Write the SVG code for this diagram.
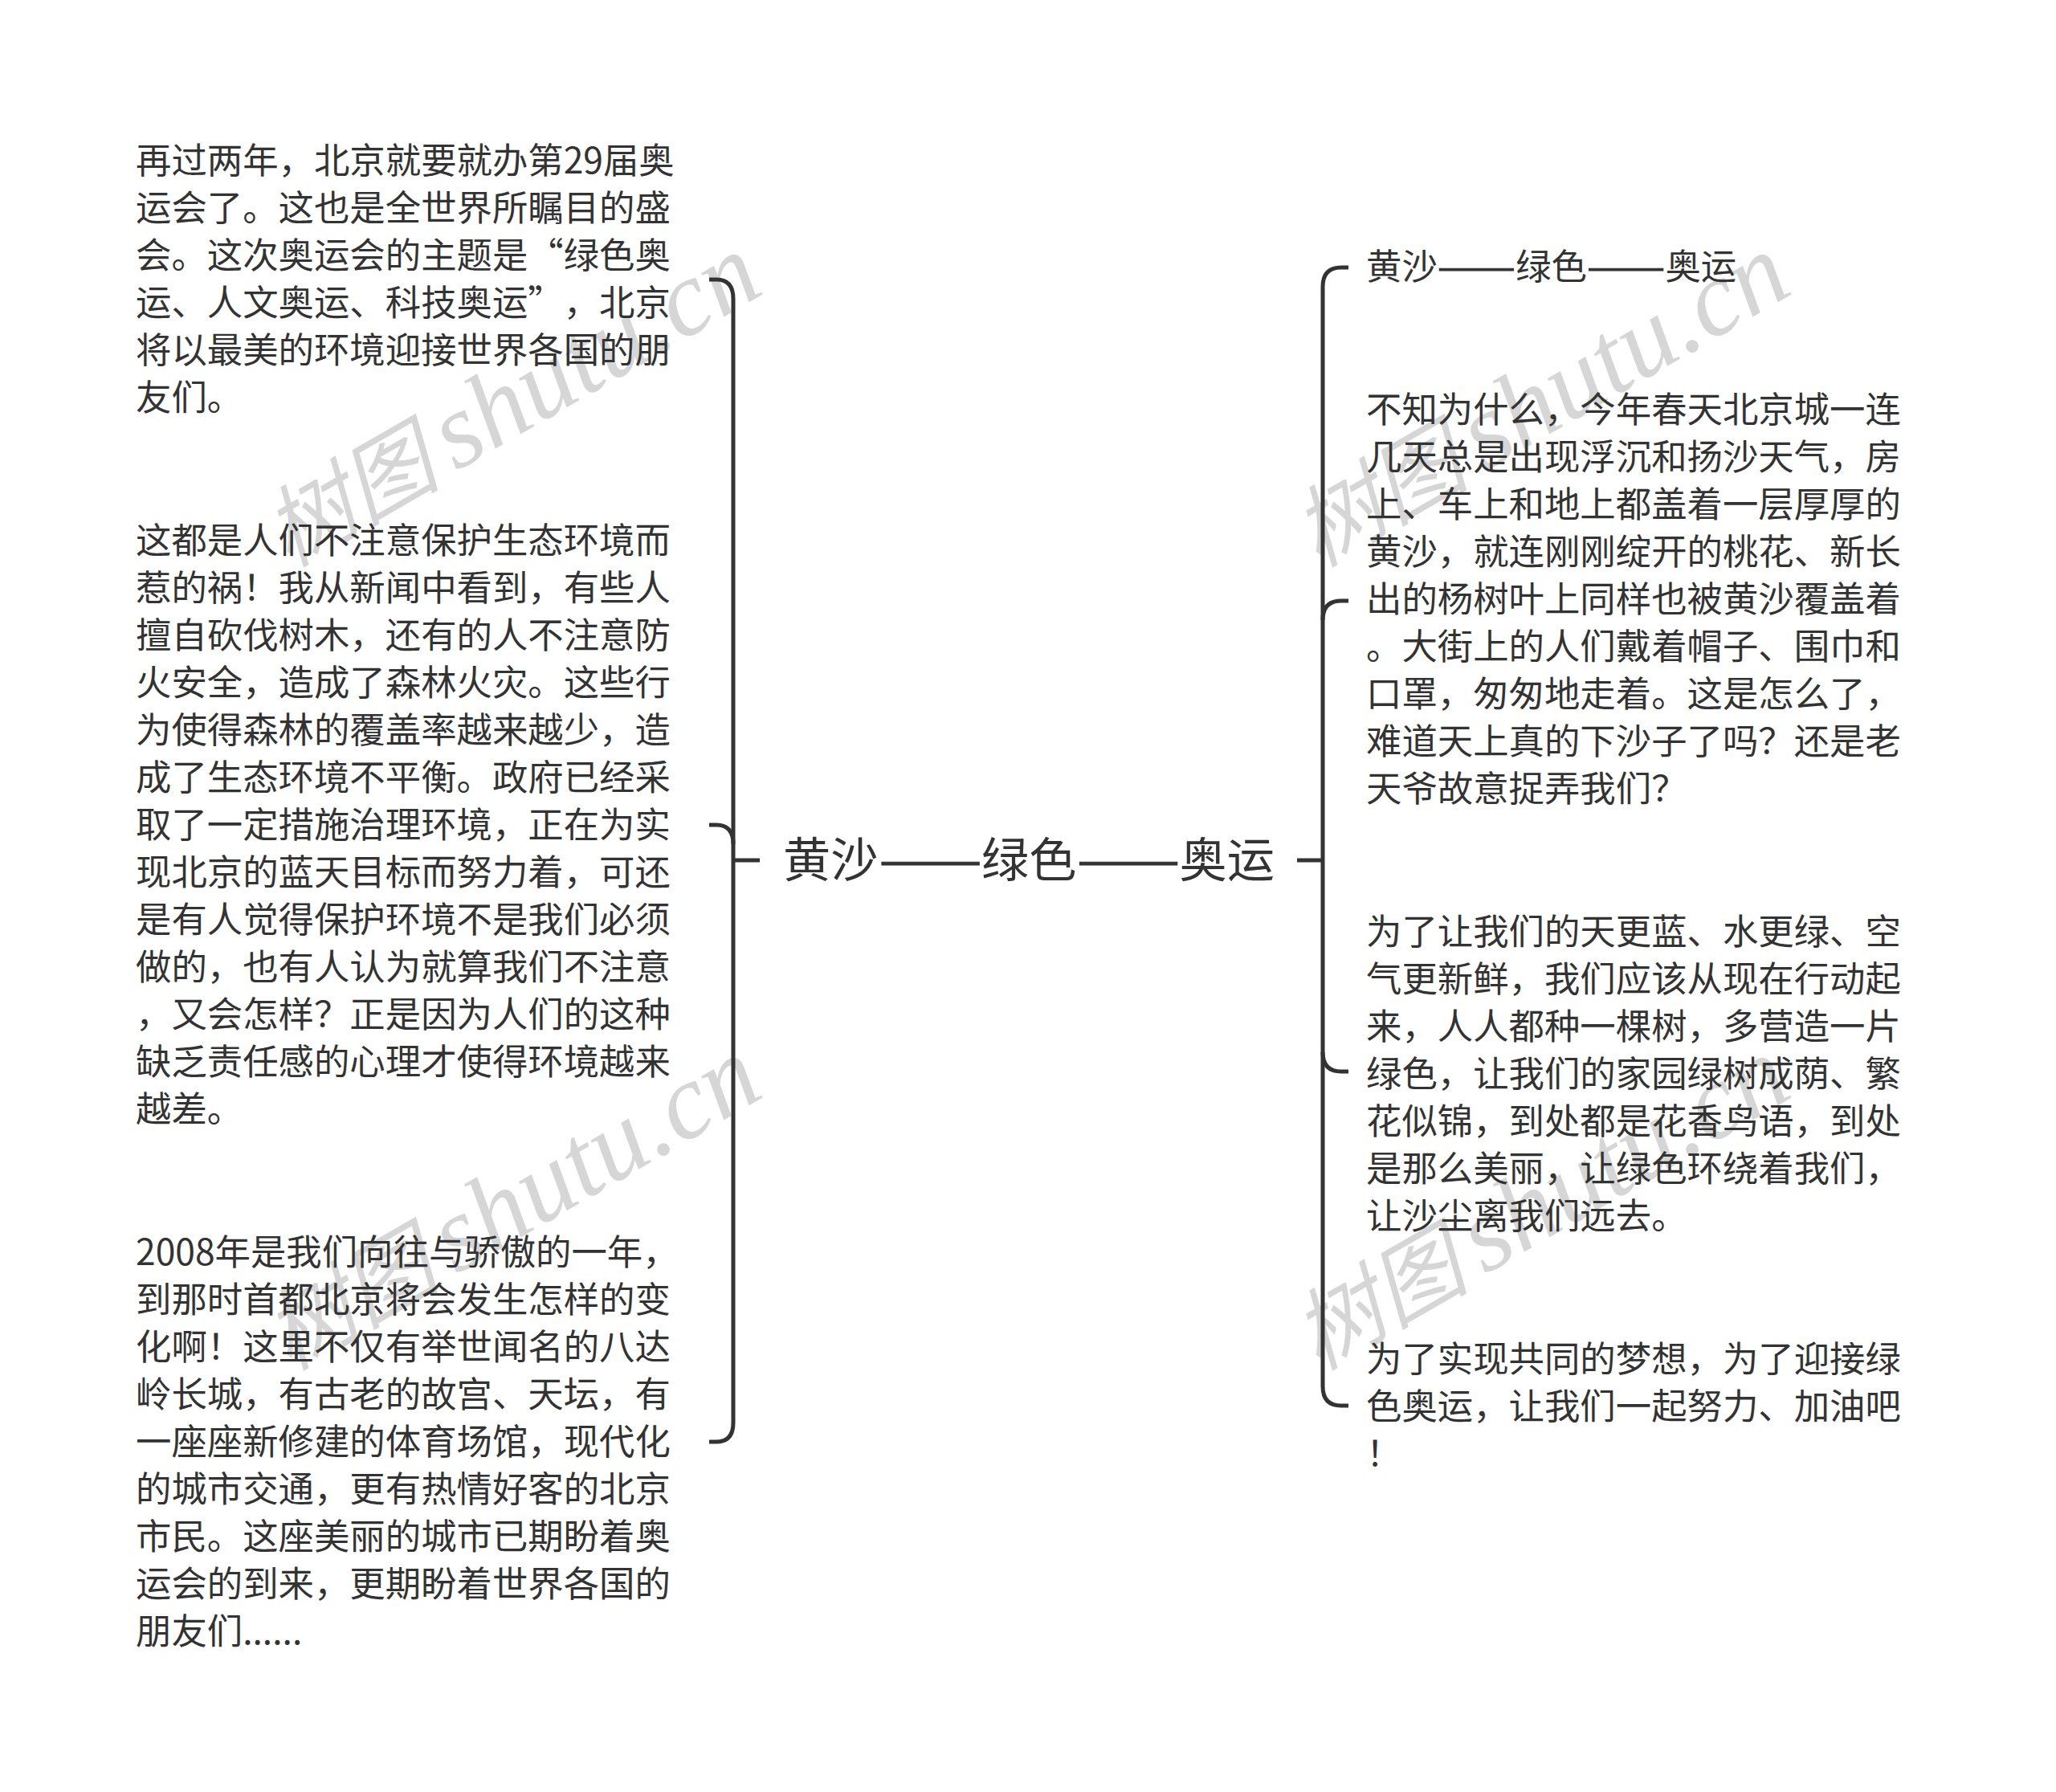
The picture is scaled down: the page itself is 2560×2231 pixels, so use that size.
<svg xmlns="http://www.w3.org/2000/svg" width="2560" height="2231" viewBox="0 0 2560 2231">
<style>
text{font-family:"Noto Sans CJK SC","Liberation Sans",sans-serif;fill:#333;text-spacing-trim:space-all}
.t{font-size:44.4px}
.c{font-size:59.2px}
.d{stroke:#333;stroke-width:1}
.w{font-family:"Liberation Serif","Noto Sans CJK SC",serif;font-style:italic;font-size:133px;fill:#d6d6d6}
.wc{font-size:110px}
.l{fill:none;stroke:#333;stroke-width:5;stroke-linecap:butt}
</style>
<defs>
<g id="wm"><text class="w"><tspan class="wc" x="0" y="0">树图</tspan><tspan x="240" y="0">shutu.cn</tspan></text></g>
</defs>
<rect width="2560" height="2231" fill="#fff"/>
<g id="watermarks">
<use href="#wm" transform="translate(360 707) rotate(-30)"/>
<use href="#wm" transform="translate(360 1707) rotate(-30)"/>
<use href="#wm" transform="translate(1641 707) rotate(-30)"/>
<use href="#wm" transform="translate(1641 1707) rotate(-30)"/>
</g>
<g id="connectors">
<path class="l" d="M883 348H892Q913 348 913 372V1771Q913 1795 892 1795H883"/>
<path class="l" d="M883 1027H892Q913 1027 913 1051"/>
<path class="l" d="M913 1071H946"/>
<path class="l" d="M1679 333H1670Q1647 333 1647 357V1726Q1647 1750 1670 1750H1679"/>
<path class="l" d="M1679 748H1670Q1647 748 1647 772"/>
<path class="l" d="M1647 1310Q1647 1334 1670 1334H1679"/>
<path class="l" d="M1615 1071H1647"/>
</g>
<g id="center">
<text class="c" x="975" y="1092">黄沙</text>
<text class="c d" x="1094.4" y="1092" textLength="128.2" lengthAdjust="spacingAndGlyphs">——</text>
<text class="c" x="1222" y="1092">绿色</text>
<text class="c d" x="1341" y="1092" textLength="128.2" lengthAdjust="spacingAndGlyphs">——</text>
<text class="c" x="1468.5" y="1092">奥运</text>
</g>
<g id="nodes" transform="translate(0 1)">
<g id="left1"><text class="t" x="170">
<tspan x="169" y="215">再过两年，北京就要就办第29届奥</tspan>
<tspan x="169" y="274">运会了。这也是全世界所瞩目的盛</tspan>
<tspan x="169" y="333">会。这次奥运会的主题是“绿色奥</tspan>
<tspan x="169" y="392">运、人文奥运、科技奥运”，北京</tspan>
<tspan x="169" y="451">将以最美的环境迎接世界各国的朋</tspan>
<tspan x="169" y="510">友们。</tspan>
</text></g>
<g id="left2"><text class="t" x="170">
<tspan x="169" y="688">这都是人们不注意保护生态环境而</tspan>
<tspan x="169" y="747">惹的祸！我从新闻中看到，有些人</tspan>
<tspan x="169" y="806">擅自砍伐树木，还有的人不注意防</tspan>
<tspan x="169" y="865">火安全，造成了森林火灾。这些行</tspan>
<tspan x="169" y="924">为使得森林的覆盖率越来越少，造</tspan>
<tspan x="169" y="983">成了生态环境不平衡。政府已经采</tspan>
<tspan x="169" y="1042">取了一定措施治理环境，正在为实</tspan>
<tspan x="169" y="1101">现北京的蓝天目标而努力着，可还</tspan>
<tspan x="169" y="1160">是有人觉得保护环境不是我们必须</tspan>
<tspan x="169" y="1219">做的，也有人认为就算我们不注意</tspan>
<tspan x="169" y="1278">，又会怎样？正是因为人们的这种</tspan>
<tspan x="169" y="1337">缺乏责任感的心理才使得环境越来</tspan>
<tspan x="169" y="1396">越差。</tspan>
</text></g>
<g id="left3"><text class="t" x="170">
<tspan x="169" y="1574">2008年是我们向往与骄傲的一年，</tspan>
<tspan x="169" y="1633">到那时首都北京将会发生怎样的变</tspan>
<tspan x="169" y="1692">化啊！这里不仅有举世闻名的八达</tspan>
<tspan x="169" y="1751">岭长城，有古老的故宫、天坛，有</tspan>
<tspan x="169" y="1810">一座座新修建的体育场馆，现代化</tspan>
<tspan x="169" y="1869">的城市交通，更有热情好客的北京</tspan>
<tspan x="169" y="1928">市民。这座美丽的城市已期盼着奥</tspan>
<tspan x="169" y="1987">运会的到来，更期盼着世界各国的</tspan>
<tspan x="169" y="2046">朋友们......</tspan>
</text></g>
<g id="right1">
<text class="t" x="1701" y="347">黄沙</text>
<text class="t d" x="1789.8" y="347" textLength="97.4" lengthAdjust="spacingAndGlyphs">——</text>
<text class="t" x="1887.2" y="347">绿色</text>
<text class="t d" x="1976" y="347" textLength="97.4" lengthAdjust="spacingAndGlyphs">——</text>
<text class="t" x="2073.4" y="347">奥运</text>
</g>
<g id="right2"><text class="t" x="1701">
<tspan x="1701" y="525">不知为什么，今年春天北京城一连</tspan>
<tspan x="1701" y="584">几天总是出现浮沉和扬沙天气，房</tspan>
<tspan x="1701" y="643">上、车上和地上都盖着一层厚厚的</tspan>
<tspan x="1701" y="702">黄沙，就连刚刚绽开的桃花、新长</tspan>
<tspan x="1701" y="761">出的杨树叶上同样也被黄沙覆盖着</tspan>
<tspan x="1701" y="820">。大街上的人们戴着帽子、围巾和</tspan>
<tspan x="1701" y="879">口罩，匆匆地走着。这是怎么了，</tspan>
<tspan x="1701" y="938">难道天上真的下沙子了吗？还是老</tspan>
<tspan x="1701" y="997">天爷故意捉弄我们？</tspan>
</text></g>
<g id="right3"><text class="t" x="1701">
<tspan x="1701" y="1175">为了让我们的天更蓝、水更绿、空</tspan>
<tspan x="1701" y="1234">气更新鲜，我们应该从现在行动起</tspan>
<tspan x="1701" y="1293">来，人人都种一棵树，多营造一片</tspan>
<tspan x="1701" y="1352">绿色，让我们的家园绿树成荫、繁</tspan>
<tspan x="1701" y="1411">花似锦，到处都是花香鸟语，到处</tspan>
<tspan x="1701" y="1470">是那么美丽，让绿色环绕着我们，</tspan>
<tspan x="1701" y="1529">让沙尘离我们远去。</tspan>
</text></g>
<g id="right4"><text class="t" x="1701">
<tspan x="1701" y="1707">为了实现共同的梦想，为了迎接绿</tspan>
<tspan x="1701" y="1766">色奥运，让我们一起努力、加油吧</tspan>
<tspan x="1701" y="1825">！</tspan>
</text></g>
</g>
</svg>
